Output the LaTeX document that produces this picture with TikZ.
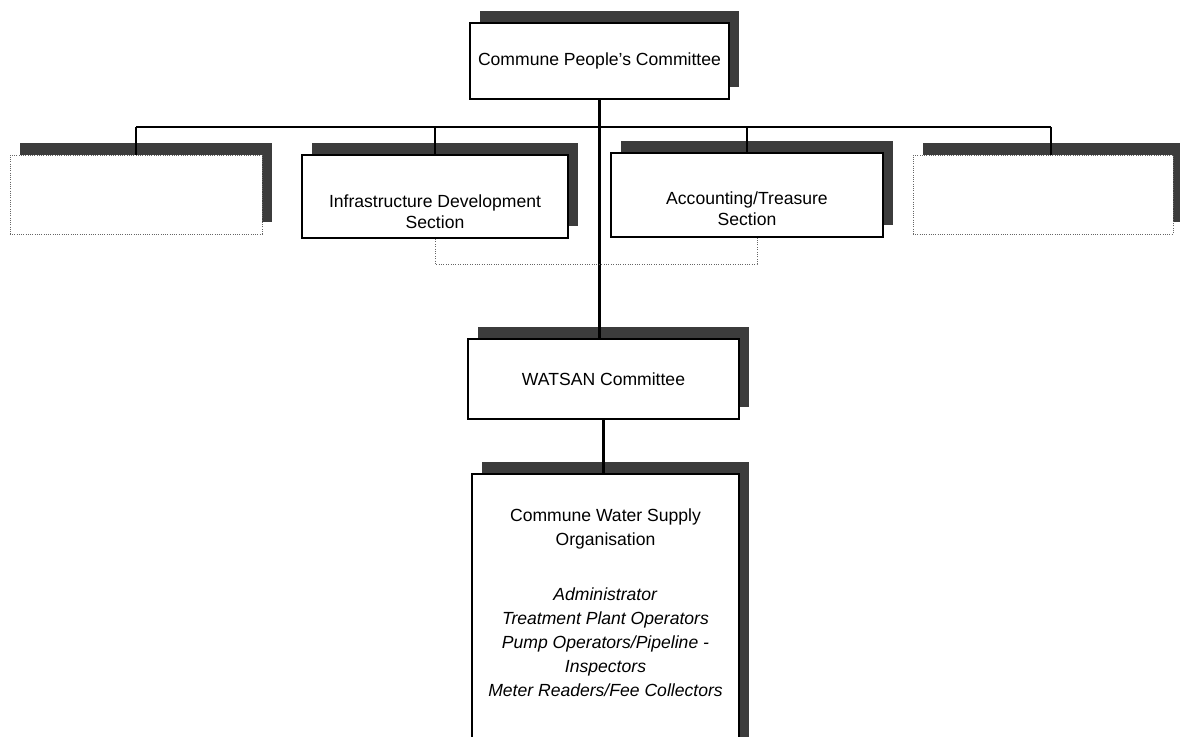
\documentclass[tikz,border=0pt]{standalone}
\usepackage{fontspec}
\setmainfont{Liberation Sans}
\usepackage{tikz}
\usetikzlibrary{shadows}
\usepackage{xcolor}
\definecolor{shadowgray}{RGB}{60, 60, 60}

\begin{document}
\begin{tikzpicture}[
    x=0.025cm, y=-0.025cm,
    box/.style={rectangle, draw, line width=1.5pt, fill=white, align=center, inner sep=2pt, font=\fontsize{12.5}{15}\selectfont, drop shadow={shadow xshift=0.25cm, shadow yshift=0.3cm, fill=shadowgray, opacity=1}},
    emptybox/.style={box, draw=black!60, line width=0.6pt, densely dotted},
    link/.style={line width=1.8pt},
    dotlink/.style={draw=black!60, line width=0.7pt, densely dotted},
]
    \useasboundingbox (0,0) rectangle (1180,737);
    \clip (0,0) rectangle (1180,737);

    % Top
    \node[box, minimum width=6.475cm, minimum height=1.9cm] (cpc) at (599.5, 61) {Commune People's Committee};

    % Sections
    \node[emptybox, minimum width=6.3cm, minimum height=1.975cm] (blankL) at (136, 194.5) {};
    \node[box, minimum width=6.65cm, minimum height=2.075cm, text height=1.6cm] (infra) at (435, 196.5) {Infrastructure Development\\Section};
    \node[box, minimum width=6.8cm, minimum height=2.1cm, text height=1.55cm] (acct) at (747, 195) {Accounting/Treasure\\Section};
    \node[emptybox, minimum width=6.5cm, minimum height=1.975cm] (blankR) at (1043, 194.5) {};

    % WATSAN
    \node[box, minimum width=6.775cm, minimum height=2cm] (watsan) at (603.5, 379) {WATSAN Committee};

    % Water supply organisation
    \node[box, anchor=north, minimum width=6.675cm, inner ysep=0.875cm, font=\fontsize{12.5}{17}\selectfont] (cwso) at (605.5, 473) {
        Commune Water Supply\\
        Organisation\\[22pt]
        \textit{Administrator}\\
        \textit{Treatment Plant Operators}\\
        \textit{Pump Operators/Pipeline -}\\
        \textit{Inspectors}\\
        \textit{Meter Readers/Fee Collectors}\\[3cm]
        \mbox{}
    };

    % Lines
    \coordinate (bus) at (597, 127);
    \draw[link] (cpc.south) -- (cpc.south |- watsan.north);
    \draw[link] (blankL.north |- bus) -- ([xshift=0.2cm]blankR.north |- bus);
    \foreach \secname in {blankL, infra, acct}
        \draw[link] (\secname.north |- bus) -- (\secname.north);
    \draw[link] ([xshift=0.2cm]blankR.north |- bus) -- ([xshift=0.2cm]blankR.north);
    \draw[link] (watsan.south) -- (watsan.south |- cwso.north);
    \draw[dotlink] (infra.south) -- ++(0, 25) -| ([xshift=0.25cm]acct.south);
\end{tikzpicture}
\end{document}
